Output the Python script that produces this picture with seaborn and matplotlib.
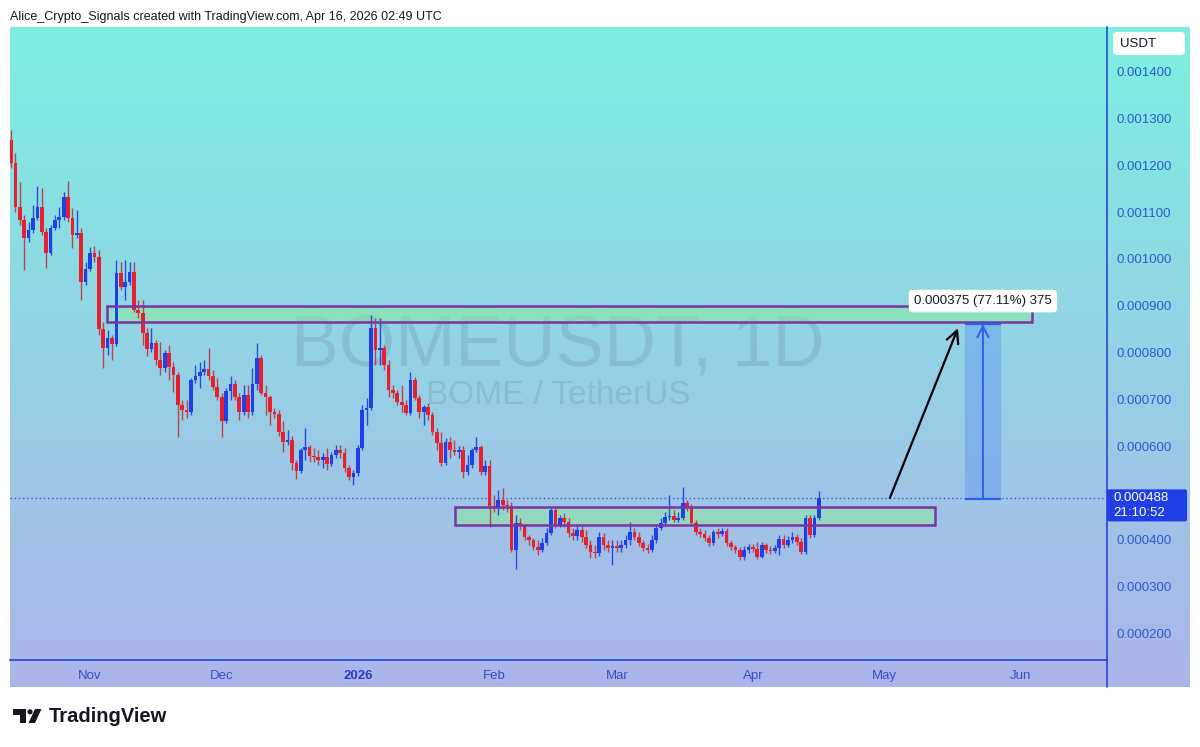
import numpy as np
import pandas as pd
import matplotlib
matplotlib.use("Agg")
import matplotlib.pyplot as plt
import matplotlib.dates as mdates
import seaborn as sns
from matplotlib.patches import Rectangle, FancyBboxPatch, Polygon, Circle

# ---------------- data (prices in 1e-6 USDT) ----------------
start_date = "2025-10-14"
first_open = 1254
closes = [1205, 1111, 1083, 1045, 1062, 1088, 1111, 1058, 1013, 1066,
          1083, 1090, 1133, 1088, 1051, 1056, 951, 979, 1013, 1004,
          850, 810, 831, 818, 970, 940, 951, 972, 891, 884,
          842, 807, 820, 784, 767, 799, 769, 752, 688, 677,
          673, 741, 750, 758, 765, 750, 726, 705, 653, 718,
          733, 705, 673, 709, 673, 733, 788, 713, 705, 673,
          668, 630, 609, 613, 564, 547, 591, 598, 579, 576,
          570, 576, 561, 581, 591, 585, 553, 534, 542, 596,
          677, 681, 852, 805, 810, 773, 720, 713, 694, 688,
          671, 741, 703, 673, 683, 666, 630, 606, 564, 609,
          591, 587, 591, 544, 559, 591, 598, 544, 557, 472,
          467, 485, 474, 472, 378, 435, 429, 405, 399, 384,
          378, 393, 414, 463, 431, 446, 437, 414, 408, 420,
          405, 388, 373, 371, 405, 388, 382, 386, 382, 388,
          399, 416, 405, 393, 382, 378, 399, 425, 435, 448,
          450, 442, 446, 478, 467, 435, 416, 412, 403, 393,
          416, 412, 418, 393, 384, 378, 363, 378, 384, 380,
          363, 388, 378, 375, 382, 401, 388, 399, 405, 395,
          373, 446, 410, 446, 488]
highs = [1276, 1227, 1165, 1094, 1079, 1115, 1156, 1152, 1066, 1073,
         1094, 1111, 1143, 1167, 1109, 1105, 1066, 994, 1026, 1028,
         1019, 865, 848, 837, 998, 994, 998, 994, 994, 912,
         912, 852, 852, 827, 822, 805, 816, 780, 758, 698,
         698, 745, 773, 780, 784, 810, 763, 745, 713, 724,
         750, 741, 713, 730, 730, 767, 820, 795, 730, 709,
         681, 677, 653, 634, 621, 570, 596, 638, 602, 596,
         591, 585, 596, 587, 602, 602, 596, 559, 549, 602,
         688, 703, 880, 874, 874, 816, 784, 730, 720, 730,
         698, 758, 748, 709, 688, 692, 673, 638, 630, 617,
         619, 613, 600, 600, 581, 596, 619, 602, 570, 570,
         495, 506, 510, 485, 480, 452, 446, 433, 410, 403,
         399, 403, 425, 470, 467, 452, 457, 446, 425, 429,
         429, 420, 399, 388, 416, 414, 399, 399, 399, 399,
         410, 437, 425, 416, 399, 390, 410, 431, 446, 459,
         495, 463, 459, 512, 485, 476, 442, 425, 420, 410,
         420, 425, 425, 425, 399, 388, 384, 386, 390, 390,
         395, 395, 393, 386, 388, 410, 410, 408, 416, 412,
         403, 452, 452, 452, 504]
lows = [1195, 1101, 1073, 976, 1036, 1056, 1083, 1051, 981, 1009,
        1062, 1066, 1083, 1079, 1024, 1045, 912, 944, 974, 994,
        837, 767, 795, 784, 814, 934, 912, 944, 887, 874,
        816, 792, 801, 773, 752, 758, 741, 716, 619, 656,
        660, 666, 735, 724, 752, 741, 720, 698, 619, 649,
        698, 698, 656, 666, 660, 666, 720, 709, 666, 645,
        660, 621, 587, 602, 549, 529, 542, 570, 566, 566,
        559, 553, 549, 557, 574, 574, 544, 527, 517, 536,
        591, 645, 677, 773, 773, 763, 705, 703, 688, 673,
        666, 666, 698, 660, 645, 656, 624, 591, 557, 559,
        574, 581, 574, 532, 538, 553, 587, 538, 538, 427,
        459, 452, 463, 459, 373, 337, 420, 399, 388, 378,
        367, 373, 388, 410, 425, 427, 427, 405, 399, 399,
        395, 382, 360, 360, 365, 378, 373, 346, 373, 373,
        382, 388, 399, 386, 375, 371, 373, 393, 420, 429,
        442, 437, 437, 442, 461, 429, 410, 405, 397, 386,
        388, 403, 408, 386, 378, 371, 356, 356, 371, 373,
        358, 360, 371, 369, 371, 367, 382, 384, 393, 388,
        369, 369, 403, 405, 442]

# 0.000500 is hidden behind the live price tag in the reference
price_ticks = [200, 300, 400, 600, 700, 800, 900, 1000, 1100, 1200, 1300, 1400]
price_labels = ["0.000200", "0.000300", "0.000400", "0.000600",
                "0.000700", "0.000800", "0.000900", "0.001000", "0.001100",
                "0.001200", "0.001300", "0.001400"]
month_ticks = ["2025-11-01", "2025-12-01", "2026-01-01", "2026-02-01",
               "2026-03-01", "2026-04-01", "2026-05-01", "2026-06-01"]
month_labels = ["Nov", "Dec", "2026", "Feb", "Mar", "Apr", "May", "Jun"]

# annotation drawings (date, price)
upper_zone = ("2025-11-04 22:00", "2026-06-03 14:00", 865, 900)
lower_zone = ("2026-01-23 02:00", "2026-05-12 12:00", 432, 469)
arrow_start = ("2026-05-02 05:00", 489)
arrow_end = ("2026-05-17 17:00", 852)
measure = ("2026-05-19 07:00", "2026-05-27 12:00", 486, 861)
measure_text = "0.000375 (77.11%) 375"
last_price = 488
last_price_label = "0.000488"
countdown = "21:10:52"

# ---------------- frame ----------------
S = 1e-6
dates = pd.date_range(start_date, periods=len(closes), freq="D")
df = pd.DataFrame({"date": dates,
                   "open": [first_open] + closes[:-1],
                   "high": highs, "low": lows, "close": closes})
for c in ["open", "high", "low", "close"]:
    df[c] = df[c] * S

sns.set_theme(style="white")
plt.rcParams["font.family"] = ["Liberation Sans", "DejaVu Sans"]

W, H = 1200, 747
fig = plt.figure(figsize=(12, 7.47), dpi=100)
fig.patch.set_facecolor("white")


def rect(l, t, r, b):
    return [l / W, 1 - b / H, (r - l) / W, (b - t) / H]


# gradient background panel
bg = fig.add_axes(rect(10, 27, 1190, 687), zorder=0)
top = np.array([124, 240, 224]) / 255
bot = np.array([172, 180, 234]) / 255
g = np.linspace(0, 1, 300)[:, None, None]
img = top[None, None, :] * (1 - g) + bot[None, None, :] * g
bg.imshow(img, aspect="auto", extent=[0, 1, 0, 1])
bg.axis("off")

ax = fig.add_axes(rect(10, 27, 1107, 660), zorder=2)
ax.set_facecolor("none")

d0 = mdates.date2num(pd.Timestamp(start_date))
ax.set_xlim(d0 - 0.23, d0 + 249.66)
ax.set_ylim(142.3 * S, 1496.2 * S)

# watermark
ax.text(0.4995, 0.494, "BOMEUSDT, 1D", transform=ax.transAxes, ha="center", va="center",
        fontsize=52, color=(0.30, 0.40, 0.45), alpha=0.17, zorder=1)
ax.text(0.4995, 0.418, "BOME / TetherUS", transform=ax.transAxes, ha="center", va="center",
        fontsize=24, color=(0.30, 0.40, 0.45), alpha=0.17, zorder=1)

# candles
xd = mdates.date2num(df["date"])
up = (df["close"] >= df["open"]).values
RED, BLUE = "#e8202e", "#1f40e8"
body_c = np.where(up, BLUE, RED)
wick_c = np.where(up, "#2a4ce0", "#b8454a")
lo_b = np.minimum(df["open"], df["close"]).values
hgt = np.maximum(np.abs(df["close"] - df["open"]).values, 1.8 * S)
ax.vlines(xd, df["low"], df["high"], colors=wick_c, lw=1.0, zorder=3)
ax.bar(xd, hgt, bottom=lo_b, width=0.84, color=body_c, linewidth=0, zorder=4)


def dn(s):
    return mdates.date2num(pd.Timestamp(s))


# zones
for (a, b, p0, p1) in [upper_zone, lower_zone]:
    ax.add_patch(Rectangle((dn(a), p0 * S), dn(b) - dn(a), (p1 - p0) * S,
                           facecolor="#8cea9e", alpha=0.55, edgecolor="none", zorder=2.5))
    ax.add_patch(Rectangle((dn(a), p0 * S), dn(b) - dn(a), (p1 - p0) * S,
                           facecolor="none", edgecolor="#7a34a6", lw=1.8, zorder=5))

# last price dotted line
ax.axhline(last_price * S, color="#3a5bd8", ls=(0, (1, 2)), lw=1.0, zorder=2.6)

# arrow
ax.annotate("", xy=(dn(arrow_end[0]), arrow_end[1] * S),
            xytext=(dn(arrow_start[0]), arrow_start[1] * S),
            arrowprops=dict(arrowstyle="->", color="black", lw=1.6,
                            mutation_scale=22, shrinkA=0, shrinkB=0), zorder=6)

# measure tool
ma, mb, mp0, mp1 = measure
ax.add_patch(Rectangle((dn(ma), mp0 * S), dn(mb) - dn(ma), (mp1 - mp0) * S,
                       facecolor="#4f86f5", alpha=0.35, edgecolor="none", zorder=5))
ax.hlines([mp0 * S, mp1 * S], dn(ma), dn(mb), color="#2d5fe8", lw=1.6, zorder=6)
mc = (dn(ma) + dn(mb)) / 2
ax.annotate("", xy=(mc, mp1 * S), xytext=(mc, mp0 * S),
            arrowprops=dict(arrowstyle="->", color="#2d5fe8", lw=1.4,
                            mutation_scale=20, shrinkA=0, shrinkB=0), zorder=6)
ax.text(mc, 910 * S, measure_text, ha="center", va="center", fontsize=9.5, color="#131722",
        zorder=7, bbox=dict(boxstyle="round,pad=0.4,rounding_size=0.3", fc="white", ec="none"))

# axes styling
ax.yaxis.tick_right()
ax.set_yticks([p * S for p in price_ticks])
ax.set_yticklabels(price_labels)
ax.set_xticks([dn(m) for m in month_ticks])
ax.set_xticklabels(month_labels)
ax.tick_params(axis="y", length=0, pad=7, labelsize=9.5, labelcolor="#2c5ad2")
ax.tick_params(axis="x", length=0, pad=7, labelsize=9.5, labelcolor="#3a4ec8")
ax.get_xticklabels()[2].set_fontweight("bold")
ax.get_xticklabels()[2].set_color("#2a3fc4")
for s in ["left", "top"]:
    ax.spines[s].set_visible(False)
for s in ["right", "bottom"]:
    ax.spines[s].set_color("#2b45d0")
    ax.spines[s].set_linewidth(1.2)
ax.grid(False)

# overlay in pixel coordinates
ov = fig.add_axes([0, 0, 1, 1], zorder=10)
ov.set_xlim(0, W)
ov.set_ylim(H, 0)
ov.axis("off")
ov.patch.set_alpha(0)

ov.plot([1107, 1107], [660, 687], color="#2b45d0", lw=1.2)

# USDT box
ov.add_patch(FancyBboxPatch((1113, 32), 72, 23, boxstyle="round,pad=0,rounding_size=4",
                            fc="white", ec="none"))
ov.text(1120, 44, "USDT", ha="left", va="center", fontsize=9.5, color="#131722")

# current price box
yp = H - ax.transData.transform((d0, last_price * S))[1]
ov.add_patch(FancyBboxPatch((1107, yp - 9), 80, 32, boxstyle="round,pad=0,rounding_size=2",
                            fc="#1e3ee6", ec="none"))
ov.text(1113, yp, last_price_label, ha="left", va="center", fontsize=9.5, color="white")
ov.text(1113, yp + 15, countdown, ha="left", va="center", fontsize=9.5, color="white")

# header
ov.text(10, 17, "Alice_Crypto_Signals created with TradingView.com, Apr 16, 2026 02:49 UTC",
        ha="left", va="center", fontsize=9, color="#131722")

# footer logo
ov.add_patch(Polygon([(13, 709), (26, 709), (26, 723), (20, 723), (20, 715), (13, 715)],
                     closed=True, fc="#131722", ec="none"))
ov.add_patch(Circle((30, 711.8), 2.6, fc="#131722", ec="none"))
ov.add_patch(Polygon([(35, 709), (41.5, 709), (35, 723), (28.5, 723)],
                     closed=True, fc="#131722", ec="none"))
ov.text(49, 717, "TradingView", ha="left", va="center", fontsize=14.5,
        fontweight="bold", color="#131722")

fig.savefig("out.png", dpi=100, facecolor="white")
